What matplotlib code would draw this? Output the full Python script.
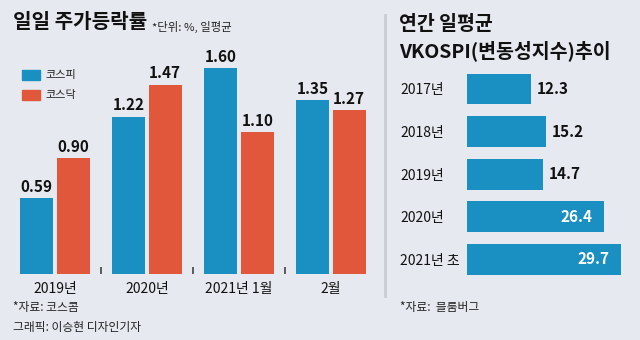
import matplotlib as mpl
mpl.use('Agg')
import matplotlib.pyplot as plt
import numpy as np

plt.rcParams['font.family'] = ['Noto Sans CJK KR', 'DejaVu Sans']

# data
periods = ['2019년', '2020년', '2021년 1월', '2월']
kospi = [0.59, 1.22, 1.60, 1.35]
kosdaq = [0.90, 1.47, 1.10, 1.27]

vk_years = ['2017년', '2018년', '2019년', '2020년', '2021년 초']
vkospi = [12.3, 15.2, 14.7, 26.4, 29.7]

bg = "#e6e9ef"
blue = "#1a8fc2"
orange = "#e0573b"
W, H = 640, 340

fig = plt.figure(figsize=(W / 100, H / 100), dpi=100, facecolor=bg)

def box(l, t, r, b):
  # pixel box (from top-left) -> figure fraction rect
  return [l / W, 1 - b / H, (r - l) / W, (b - t) / H]

def ftext(x, y, s, **kw):
  fig.text(x / W, 1 - y / H, s, **kw)

# ---- left: daily fluctuation rate
ax = fig.add_axes(box(9, 16.5, 377, 274))
ax.set_facecolor('none')
x = np.arange(len(periods))
bw = 0.36
off = 0.198
b1 = ax.bar(x - off, kospi, bw, color=blue)
b2 = ax.bar(x + off, kosdaq, bw, color=orange)
for bars, vals in ((b1, kospi), (b2, kosdaq)):
  for b, v in zip(bars, vals):
    ax.annotate(f"{v:.2f}", (b.get_x() + b.get_width() / 2, v),
                xytext=(0, 2.5), textcoords='offset points',
                ha='center', va='bottom', fontsize=11, fontweight='bold',
                color='#111111')
ax.vlines([0.5, 1.5, 2.5], 0, 0.055, color='#444444', linewidth=1.2)
ax.set_xlim(-0.5, 3.5)
ax.set_ylim(0, 2.0)
ax.set_xticks(x)
ax.set_xticklabels(periods, fontsize=10, color='#111111')
ax.tick_params(axis='x', length=0, pad=6)
ax.set_yticks([])
for s in ax.spines.values():
  s.set_visible(False)

# legend
for i, (lab, c) in enumerate((('코스피', blue), ('코스닥', orange))):
  y0 = 70 + i * 20
  fig.patches.append(plt.Rectangle((22 / W, 1 - (y0 + 10) / H), 18 / W, 10 / H,
                                   transform=fig.transFigure, color=c))
  ftext(45, y0 + 5, lab, fontsize=8, va='center', color='#222222')

ftext(13, 22, '일일 주가등락률', fontsize=14.5, fontweight='bold', va='center', color='#111111')
ftext(152, 27, '*단위: %, 일평균', fontsize=8.2, va='center', color='#222222')
ftext(13, 307, '*자료: 코스콤', fontsize=8.5, va='center', color='#222222')
ftext(13, 327, '그래픽: 이승현 디자인기자', fontsize=8.5, va='center', color='#222222')

# divider
fig.add_artist(plt.Line2D([385 / W, 385 / W], [1 - 15 / H, 1 - 296 / H],
                          color='#c9cdd3', linewidth=2))

# ---- right: VKOSPI
ax2 = fig.add_axes(box(467, 67.7, 633, 280.7))
ax2.set_facecolor('none')
y = np.arange(len(vk_years))
hb = ax2.barh(y, vkospi, 0.72, color=blue)
for b, v in zip(hb, vkospi):
  if v > 20:
    ax2.annotate(f"{v:.1f}", (v, b.get_y() + b.get_height() / 2),
                 xytext=(-8, 0), textcoords='offset points', ha='right', va='center',
                 fontsize=11, fontweight='bold', color='white')
  else:
    ax2.annotate(f"{v:.1f}", (v, b.get_y() + b.get_height() / 2),
                 xytext=(4, 0), textcoords='offset points', ha='left', va='center',
                 fontsize=11, fontweight='bold', color='#111111')
ax2.set_xlim(0, 32)
ax2.set_ylim(len(vk_years) - 0.5, -0.5)
ax2.set_xticks([])
ax2.set_yticks(y)
ax2.set_yticklabels(vk_years, fontsize=10, color='#111111', ha='left')
ax2.tick_params(axis='y', length=0, pad=48.2)
for s in ax2.spines.values():
  s.set_visible(False)

ftext(399, 24, '연간 일평균', fontsize=14, fontweight='bold', va='center', color='#111111')
ftext(399, 51, 'VKOSPI(변동성지수)추이', fontsize=14, fontweight='bold', va='center', color='#111111')
ftext(400, 308, '*자료:  블룸버그', fontsize=8.5, va='center', color='#222222')

fig.savefig('out.png', dpi=100, facecolor=bg)
